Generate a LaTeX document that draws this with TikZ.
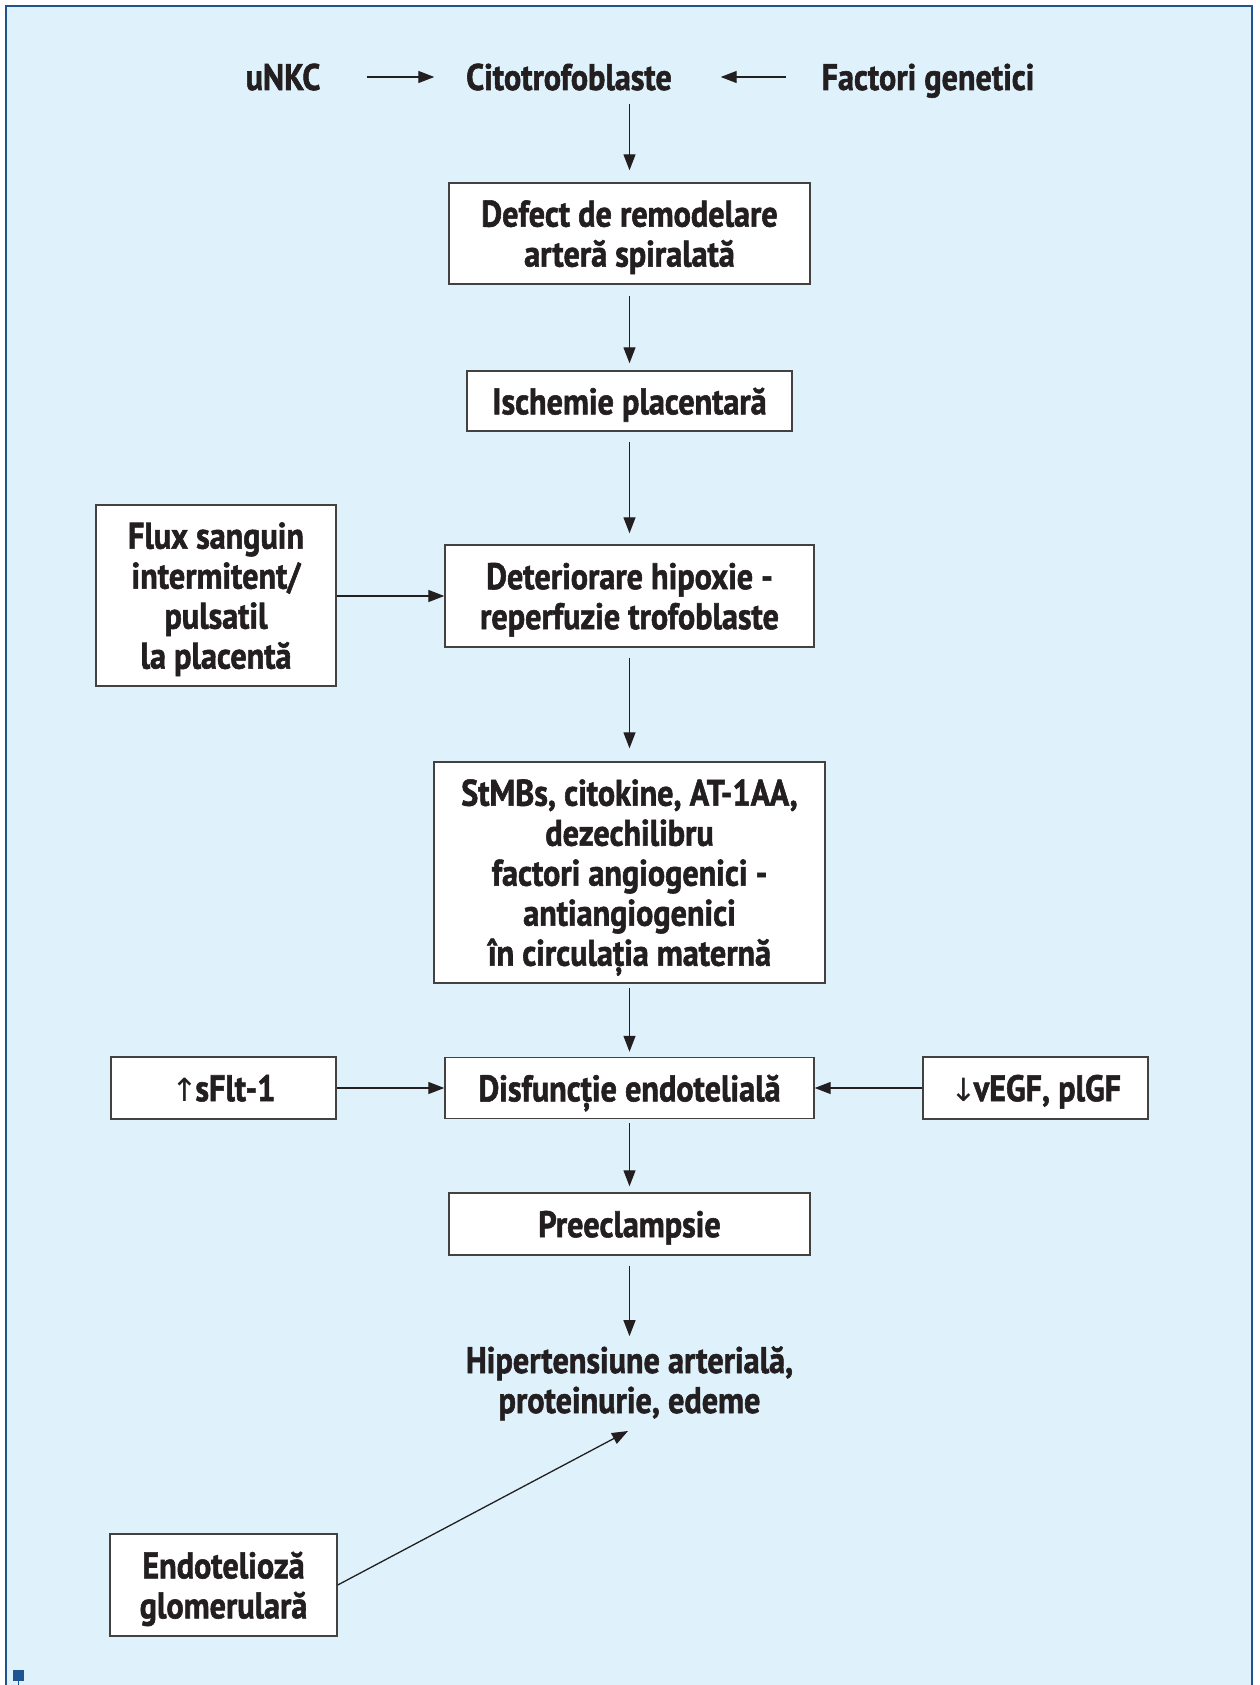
\documentclass[tikz,border=0pt]{standalone}
\usepackage{fontspec}
\setmainfont{PT Sans}[FakeStretch=0.87, BoldFeatures={FakeBold=1.5}]
\newfontfamily\arrowfont{DejaVu Sans}
\usetikzlibrary{arrows.meta}
\definecolor{bgblue}{RGB}{223,242,251}
\definecolor{frameblue}{RGB}{30,85,145}
\definecolor{ink}{RGB}{35,31,32}
\begin{document}
\begin{tikzpicture}[x=1pt,y=-1pt,
  every node/.style={font=\fontsize{37}{40}\selectfont\bfseries, text=ink},
  box/.style={draw=ink!85, line width=1.4pt, fill=white, align=center, inner sep=0pt, text depth=0pt},
  toptext/.style={align=center, inner sep=0pt, anchor=base, text height=26pt, text depth=0pt},
  plain/.style={align=center, inner sep=0pt},
  arr/.style={-{Triangle[length=16pt,width=12pt]}, line width=1.3pt, draw=ink},
]
\useasboundingbox (0,0) rectangle (1259,1685);
\fill[white] (0,0) rectangle (1259,1685);
\fill[bgblue] (6,6) rectangle (1252,1685);
\draw[frameblue, line width=2pt] (6,1685) -- (6,6) -- (1252,6) -- (1252,1685);
\fill[frameblue] (13,1670) rectangle (24,1681);
\draw[frameblue, line width=1.5pt] (18.5,1681) -- (18.5,1685);

% top row
\node[toptext, minimum width=72pt] (unkc) at (283,90) {uNKC};
\node[toptext, minimum width=209pt] (cito) at (569,90) {Citotrofoblaste};
\node[toptext, minimum width=214pt] (fact) at (928,90) {Factori genetici};

% boxes
\node[box, minimum width=361pt, minimum height=101pt] (defect) at (629.5,233.5) {Defect de remodelare\\arteră spiralată};
\node[box, minimum width=325pt, minimum height=60pt] (isch) at (629.5,401) {Ischemie placentară};
\node[box, minimum width=369pt, minimum height=102pt] (deter) at (629.5,596) {Deteriorare hipoxie -\\reperfuzie trofoblaste};
\node[box, minimum width=240pt, minimum height=181pt] (flux) at (216,595.5) {Flux sanguin\\intermitent/\\pulsatil\\la placentă};
\node[box, minimum width=391pt, minimum height=221pt] (stmb) at (629.5,872.5) {StMBs, citokine, AT-1AA,\\dezechilibru\\factori angiogenici -\\antiangiogenici\\în circulația maternă};
\node[box, minimum width=369pt, minimum height=61pt] (disf) at (629.5,1088) {Disfuncție endotelială};
\node[box, minimum width=225pt, minimum height=62pt] (sflt) at (223.5,1088) {{\arrowfont\mdseries\fontsize{32}{32}\selectfont ↑}\kern-3pt sFlt-1};
\node[box, minimum width=225pt, minimum height=62pt] (vegf) at (1035.5,1088) {{\arrowfont\mdseries\fontsize{32}{32}\selectfont ↓}\kern-3pt vEGF, plGF};
\node[box, minimum width=361pt, minimum height=62pt] (pre) at (629.5,1224) {Preeclampsie};
\node[plain, anchor=base] (hip) at (629.5,1413) {Hipertensiune arterială,\\proteinurie, edeme};
\node[box, minimum width=227pt, minimum height=102pt] (endo) at (223.5,1585) {Endotelioză\\glomerulară};
\coordinate (hipin) at (628,1431);

% connectors
\draw[arr, shorten <=46pt, shorten >=30pt] (unkc.east) -- (cito.west);
\draw[arr, shorten <=35pt, shorten >=47pt] (fact.west) -- (cito.east);
\draw[arr, shorten <=14pt, shorten >=12pt] (cito.south -| defect.north) -- (defect.north);
\draw[arr, shorten <=11pt, shorten >=7pt] (defect) -- (isch);
\draw[arr, shorten <=10pt, shorten >=11pt] (isch) -- (deter);
\draw[arr, shorten <=10pt, shorten >=13pt] (deter) -- (stmb);
\draw[arr, shorten <=4pt, shorten >=5pt] (stmb) -- (disf);
\draw[arr, shorten <=4pt, shorten >=6pt] (disf) -- (pre);
\draw[arr, shorten <=10pt, shorten >=10pt] (pre.south) -- (pre.south |- hip.north);
\draw[arr] (flux.east |- deter.west) -- (deter.west);
\draw[arr] (sflt) -- (disf);
\draw[arr] (vegf) -- (disf);
\draw[arr] (endo.east) -- (hipin);
\end{tikzpicture}
\end{document}
